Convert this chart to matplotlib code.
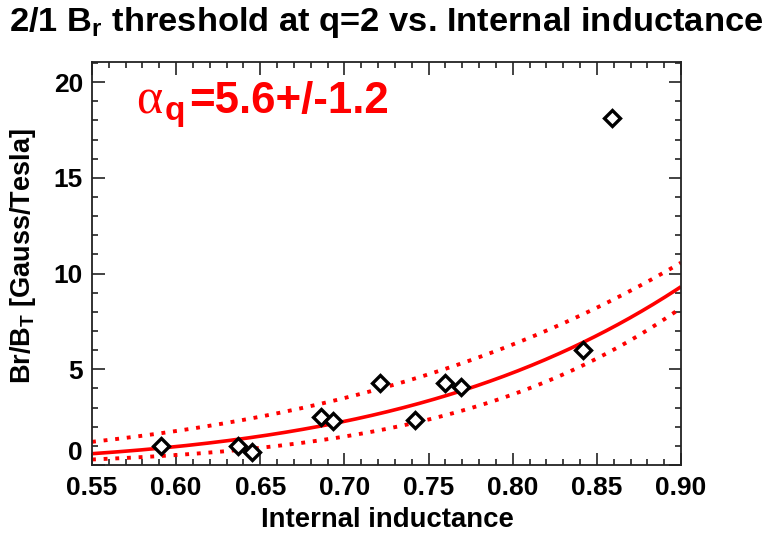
import numpy as np
import matplotlib
matplotlib.use("Agg")
import matplotlib.pyplot as plt
from matplotlib.ticker import MultipleLocator

plt.rcParams['font.family'] = ['Liberation Sans', 'DejaVu Sans']
plt.rcParams['mathtext.fontset'] = 'custom'
plt.rcParams['mathtext.rm'] = 'Liberation Sans'
plt.rcParams['mathtext.bf'] = 'Liberation Sans:bold'
plt.rcParams['mathtext.it'] = 'Liberation Sans:italic'

# Measured data: internal inductance vs. 2/1 Br threshold
li = [0.591, 0.637, 0.645, 0.686, 0.693, 0.721, 0.742, 0.760, 0.769, 0.842, 0.859]
br = [0.97, 1.00, 0.70, 2.50, 2.30, 4.30, 2.35, 4.30, 4.10, 6.00, 18.10]

# Fit parameters: Br/BT = A * li^alpha
fit_A = 16.8
fit_alpha = 5.6
fit_err = 1.2

x_ticks = [0.55, 0.60, 0.65, 0.70, 0.75, 0.80, 0.85, 0.90]
y_ticks = [0, 5, 10, 15, 20]

W, H = 769, 533
fig = plt.figure(figsize=(W/100, H/100), dpi=100)
ax = fig.add_axes([92/W, 1-465/H, (681-92)/W, (465-62)/H])

xf = np.linspace(0.55, 0.90, 300)
ax.plot(xf, fit_A * xf**fit_alpha, color='red', lw=2.6, solid_capstyle='butt', zorder=2)
ax.plot(xf, fit_A * xf**(fit_alpha - fit_err), color='red', lw=2.8,
        linestyle=(0, (1, 2.0)), zorder=2)
ax.plot(xf, fit_A * xf**(fit_alpha + fit_err), color='red', lw=2.8,
        linestyle=(0, (1, 2.0)), zorder=2)

ax.plot(li, br, linestyle='none', marker='D', ms=8.5, mfc='white', mec='black',
        mew=2.4, zorder=3)

ax.set_xlim(0.55, 0.90)
ax.set_ylim(0, 21.05)
ax.set_xticks(x_ticks)
ax.set_xticklabels([f"{v:.2f}" for v in x_ticks])
ax.set_yticks(y_ticks)
ax.set_yticklabels([str(v) for v in y_ticks])
ax.xaxis.set_minor_locator(MultipleLocator(0.01))
ax.yaxis.set_minor_locator(MultipleLocator(1))
ax.tick_params(which='both', direction='in', top=True, right=True, width=1.2, colors='#222222')
ax.tick_params(which='major', length=9)
ax.tick_params(which='minor', length=4.5)
ax.tick_params(axis='both', which='major', labelsize=19, labelcolor='black')
ax.tick_params(axis='x', which='major', pad=8)
ax.tick_params(axis='y', which='major', pad=6.5)
for lab in ax.get_xticklabels() + ax.get_yticklabels():
    lab.set_fontweight('bold')
ax.yaxis.get_major_ticks()[0].label1.set_verticalalignment('bottom')
for sp in ax.spines.values():
    sp.set_linewidth(1.3)
    sp.set_color('#222222')

fig.text(386/W, 1-23/H, '2/1 B$_\\mathbf{r}$ threshold at q=2 vs. Internal inductance',
         ha='center', va='center', fontsize=24.8, fontweight='bold')
fig.text(387/W, 1-520/H, 'Internal inductance', ha='center', va='center',
         fontsize=19.8, fontweight='bold')
fig.text(23/W, 1-256/H, 'Br/B$_\\mathbf{T}$ [Gauss/Tesla]', ha='center', va='center',
         rotation=90, fontsize=19.5, fontweight='bold')

# Annotation: alpha_q = 5.6 +/- 1.2, built from three text pieces
base_px = 113
fig.text(136/W, 1-base_px/H, '\u03b1', color='red', family='Liberation Serif',
         fontsize=36, fontweight='normal', ha='left', va='baseline')
fig.text(165/W, 1-(base_px + 7)/H, 'q', color='red', family='Liberation Sans',
         fontsize=24, fontweight='bold', ha='left', va='baseline')
fig.text(189/W, 1-base_px/H, f'={fit_alpha}+/-{fit_err}', color='red',
         family='Liberation Sans', fontsize=31.5, fontweight='bold', ha='left', va='baseline')

fig.savefig('out.png', dpi=100)
